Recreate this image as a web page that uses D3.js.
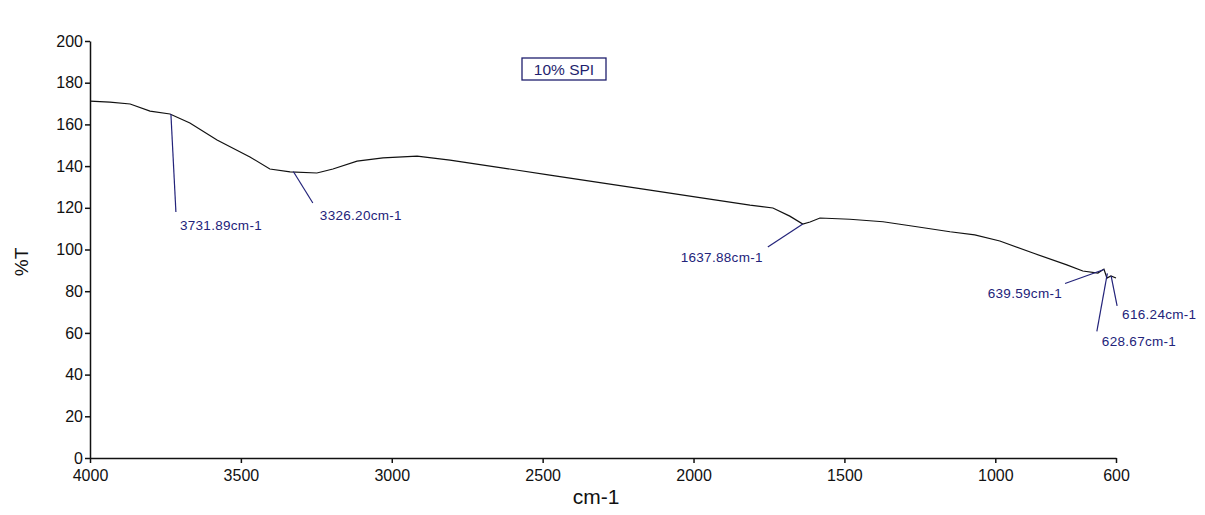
<!DOCTYPE html>
<html>
<head>
<meta charset="utf-8">
<script src="https://cdn.jsdelivr.net/npm/d3@7"></script>
<style>
	body { margin: 0; background: #fff; }
	svg { display: block; }
	.tick text { font-family: "Liberation Sans", Arial, sans-serif; font-size: 16px; fill: #111; }
	.peak text { font-family: "Liberation Sans", Arial, sans-serif; font-size: 13.5px; fill: #23237a; letter-spacing: 0.3px; }
</style>
</head>
<body>
<div id="chart"></div>
<script>
// spectrum: wavenumber (cm-1) and %T
let wavenumbers = [4000,3934,3867,3801,3735,3669,3579,3470,3404,3337,3248,3195,3115,3029,2916,2807,2641,2476,2310,2144,1979,1813,1737,1681,1638,1614,1581,1482,1372,1260,1150,1068,985,875,763,710,660,640,630,617,600]
let transmittance = [171.2,170.7,169.8,166.4,165.0,160.7,152.5,144.4,138.6,137.2,136.7,138.6,142.4,143.9,144.8,142.9,139.3,135.7,132.1,128.5,124.9,121.3,119.9,116.0,112.2,113.2,115.1,114.5,113.3,110.9,108.5,107.0,104.1,98.3,92.6,89.7,88.7,90.6,86.3,87.3,86.3]

let peakWavenumbers = [3731.89,3326.20,1637.88,639.59,628.67,616.24]
let peakTransmittance = [165.0,137.4,112.2,90.4,88.6,87.4]
let peakLabels = peakWavenumbers.map(w=>`${w.toFixed(2)}cm-1`)

let xTicks = [4000,3500,3000,2500,2000,1500,1000,600]
let yTicks = [0,20,40,60,80,100,120,140,160,180,200]

let title = "10% SPI"
let xTitle = "cm-1"
let yTitle = "%T"

// leader line end and label offsets, in pixels from the peak
let peakLayout = [
	{lx:5, ly:98, tx:9, ty:111, anchor:"start"},
	{lx:19.5, ly:31.5, tx:26.5, ty:43.5, anchor:"start"},
	{lx:-35, ly:23, tx:-40, ty:33, anchor:"end"},
	{lx:-39, ly:14, tx:-42, ty:24, anchor:"end"},
	{lx:-10.5, ly:58, tx:-5.5, ty:68, anchor:"start"},
	{lx:6, ly:30, tx:11, ty:39, anchor:"start"}
]

let fullWidth = 1205
let fullHeight = 515

let svg = d3.select("#chart")
	.append("svg")
	.attr("width",fullWidth)
	.attr("height",fullHeight)

let xScale = d3.scaleLinear()
	.domain([4000,600])
	.range([90,1116])

let yScale = d3.scaleLinear()
	.domain([0,200])
	.range([458,41])

let xAxis = d3.axisBottom(xScale)
	.tickValues(xTicks)
	.tickSize(5)
	.tickSizeOuter(0)
	.tickPadding(7)
	.tickFormat(d3.format("d"))

let yAxis = d3.axisLeft(yScale)
	.tickValues(yTicks)
	.tickSize(5)
	.tickSizeOuter(0)
	.tickPadding(2)

svg.append("g")
	.attr("class","x axis")
	.attr("transform","translate(0,"+yScale(0)+")")
	.call(xAxis)

svg.append("g")
	.attr("class","y axis")
	.attr("transform","translate("+xScale(4000)+",0)")
	.call(yAxis)

svg.selectAll(".axis .domain, .axis line")
	.attr("stroke","#111")
	.attr("stroke-width",1.5)

svg.append("text")
	.attr("x",596)
	.attr("y",504)
	.attr("text-anchor","middle")
	.style("font-family","Liberation Sans, Arial, sans-serif")
	.style("font-size","21px")
	.attr("fill","#111")
	.text(xTitle)

svg.append("text")
	.attr("transform","translate(28,262) rotate(-90)")
	.attr("text-anchor","middle")
	.style("font-family","Liberation Sans, Arial, sans-serif")
	.style("font-size","19px")
	.attr("fill","#111")
	.text(yTitle)

let titleBox = svg.append("g")
	.attr("transform","translate(564,69)")
titleBox.append("rect")
	.attr("x",-42)
	.attr("y",-11)
	.attr("width",84)
	.attr("height",22)
	.attr("fill","none")
	.attr("stroke","#1f1f6e")
	.attr("stroke-width",1.3)
titleBox.append("text")
	.attr("text-anchor","middle")
	.attr("dy","0.36em")
	.style("font-family","Liberation Sans, Arial, sans-serif")
	.style("font-size","15.5px")
	.attr("fill","#1f1f6e")
	.text(title)

let line = d3.line()
	.x((d,i)=>xScale(d))
	.y((d,i)=>yScale(transmittance[i]))

svg.append("path")
	.datum(wavenumbers)
	.attr("d",line)
	.attr("fill","none")
	.attr("stroke","#111")
	.attr("stroke-width",1.2)

let peaks = svg.selectAll(".peak")
	.data(peakWavenumbers)
	.enter()
	.append("g")
	.attr("class","peak")
	.attr("transform",(d,i)=>`translate(${xScale(d)},${yScale(peakTransmittance[i])})`)

peaks.append("line")
	.attr("x1",0)
	.attr("y1",0)
	.attr("x2",(d,i)=>peakLayout[i].lx)
	.attr("y2",(d,i)=>peakLayout[i].ly)
	.attr("stroke","#23237a")
	.attr("stroke-width",1.2)

peaks.append("text")
	.attr("x",(d,i)=>peakLayout[i].tx)
	.attr("y",(d,i)=>peakLayout[i].ty)
	.attr("dy","0.35em")
	.attr("text-anchor",(d,i)=>peakLayout[i].anchor)
	.text((d,i)=>peakLabels[i])
</script>
</body>
</html>
